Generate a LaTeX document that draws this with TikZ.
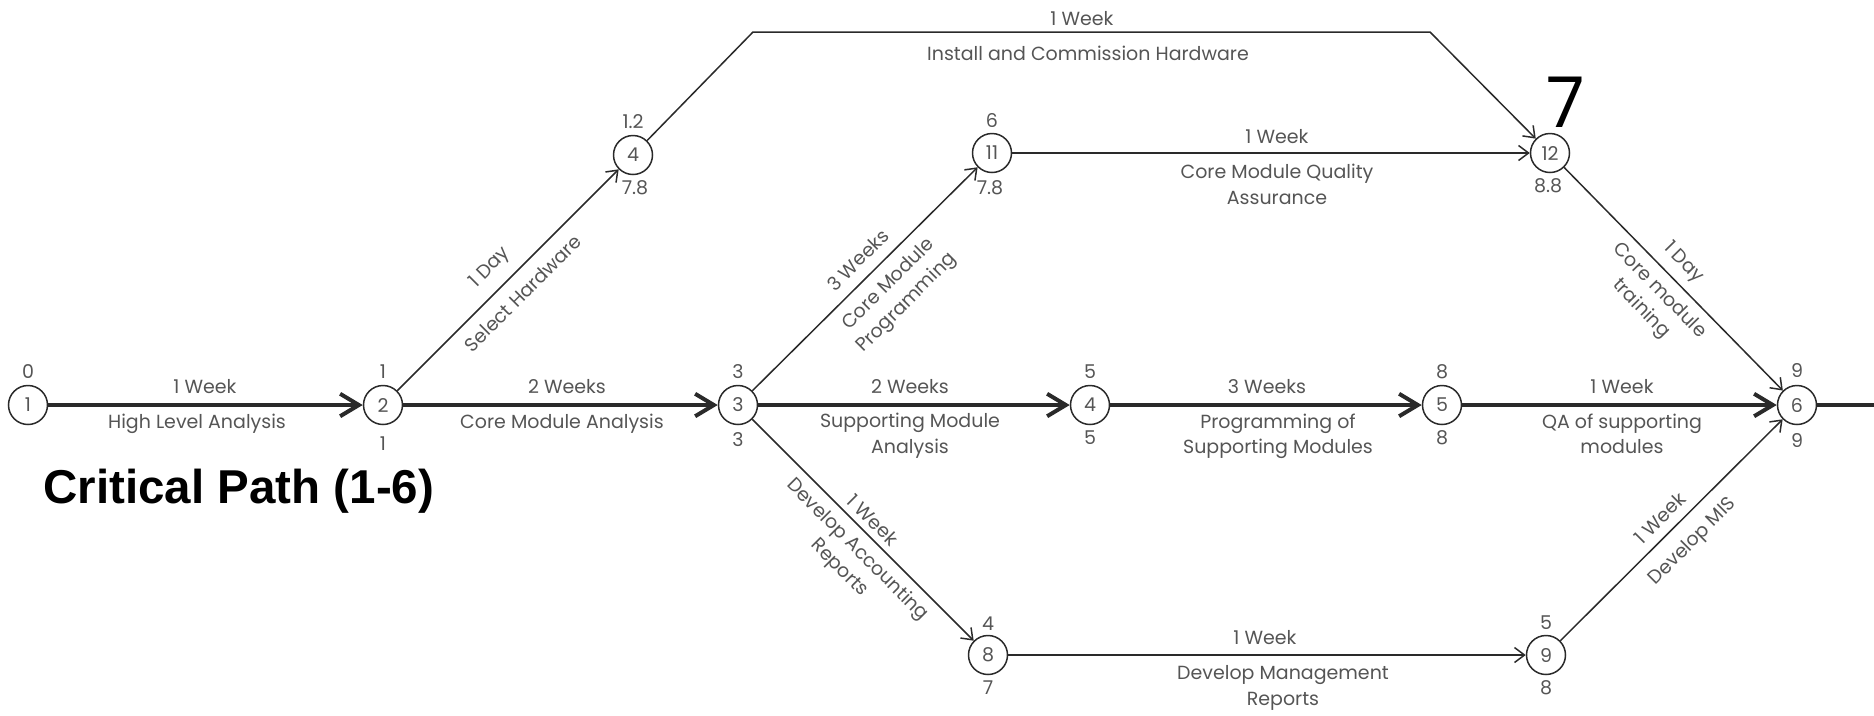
\documentclass[tikz,border=0pt]{standalone}
\usepackage{fontspec}
\setmainfont{Poppins}
\newfontfamily\titlefont{Liberation Sans}
\usetikzlibrary{arrows.meta}

\definecolor{inkline}{HTML}{2A2A2A}
\definecolor{inktext}{HTML}{555555}

\newcommand{\lblsize}{\fontsize{7.6}{10.2}\selectfont}

\begin{document}
\begin{tikzpicture}[x=0.4pt, y=-0.4pt,
  event/.style={circle, draw=inkline, line width=0.6pt, minimum size=15.6pt,
    inner sep=0pt, font=\lblsize, text=inktext},
  critline/.style={draw=inkline, line width=1.6pt},
  critarrow/.style={critline, -{Straight Barb[length=7.5pt, width=9pt]}},
  actarrow/.style={draw=inkline, line width=0.6pt, -{Straight Barb[length=4pt, width=6pt]}},
  lbl/.style={font=\lblsize, text=inktext, align=center, inner sep=0pt},
  num/.style={font=\lblsize, text=inktext, inner sep=0pt}]

\useasboundingbox (0,0) rectangle (1874,715);

% events
\node[event] (n1)  at (28,405)   {1};
\node[event] (n2)  at (383,405)  {2};
\node[event] (n3)  at (738,405)  {3};
\node[event] (n4m) at (1090,405) {4};
\node[event] (n5)  at (1442,405) {5};
\node[event] (n6)  at (1797,405) {6};
\node[event] (n4u) at (633,155)  {4};
\node[event] (n11) at (992,153)  {11};
\node[event] (n12) at (1550,153) {12};
\node[event] (n8)  at (988,655)  {8};
\node[event] (n9)  at (1546,655) {9};

% earliest / latest times
\node[num] (t1)   at (28,372)   {0};
\node[num] (t2)   at (383,372)  {1};
\node[num] (b2)   at (383,444)  {1};
\node[num] (t3)   at (738,372)  {3};
\node[num] (b3)   at (738,440)  {3};
\node[num] (t4m)  at (1090,372) {5};
\node[num] (b4m)  at (1090,438) {5};
\node[num] (t5)   at (1442,372) {8};
\node[num] (b5)   at (1442,438) {8};
\node[num] (t6)   at (1797,370) {9};
\node[num] (b6)   at (1797,440) {9};
\node[num] (t4u)  at (633,122)  {1.2};
\node[num] (b4u)  at (635,188)  {7.8};
\node[num] (t11)  at (992,121)  {6};
\node[num] (b11)  at (990,188)  {7.8};
\node[num] (b12)  at (1548,186) {8.8};
\node[num] (t8)   at (988,624)  {4};
\node[num] (b8)   at (988,688)  {7};
\node[num] (t9)   at (1546,623) {5};
\node[num] (b9)   at (1546,688) {8};
\node[font=\fontsize{28}{30}\selectfont, text=black, inner sep=0pt] (big7) at (1566,102) {7};

% critical path
\coordinate (exit) at (1874,405);
\draw[critarrow] (n1) -- (n2);
\draw[critarrow] (n2) -- (n3);
\draw[critarrow] (n3) -- (n4m);
\draw[critarrow] (n4m) -- (n5);
\draw[critarrow] (n5) -- (n6);
\draw[critline] (n6) -- (exit);

% other activities
\coordinate (hwa) at (753,32);
\coordinate (hwb) at (1430,32);
\draw[actarrow] (n2) -- (n4u);
\draw[actarrow] (n4u) -- (hwa) -- (hwb) -- (n12);
\draw[actarrow] (n3) -- (n11);
\draw[actarrow] (n11) -- (n12);
\draw[actarrow] (n12) -- (n6);
\draw[actarrow] (n3) -- (n8);
\draw[actarrow] (n8) -- (n9);
\draw[actarrow] (n9) -- (n6);

% activity labels along the critical path
\node[lbl] (d12) at (205,387) {1 Week};
\node[lbl] (a12) at (197,424) {High Level Analysis};
\node[lbl] (d23) at (567,387) {2 Weeks};
\node[lbl] (a23) at (562,424) {Core Module Analysis};
\node[lbl] (d34) at (910,387) {2 Weeks};
\node[lbl, anchor=north] (a34) at (910,413) {Supporting Module\\Analysis};
\node[lbl] (d45) at (1267,387) {3 Weeks};
\node[lbl, anchor=north] (a45) at (1278,413) {Programming of\\Supporting Modules};
\node[lbl] (d56) at (1622,387) {1 Week};
\node[lbl, anchor=north] (a56) at (1622,413) {QA of supporting\\modules};

% activity labels on the other branches
\node[lbl] (dhw) at (1082,19) {1 Week};
\node[lbl] (ahw) at (1088,53) {Install and Commission Hardware};
\node[lbl] (d1112) at (1277,137) {1 Week};
\node[lbl, anchor=north] (a1112) at (1277,164) {Core Module Quality\\Assurance};
\node[lbl] (d89) at (1265,638) {1 Week};
\node[lbl, anchor=north] (a89) at (1283,665) {Develop Management\\Reports};

\node[lbl, rotate=45] (d24) at (490,268) {1 Day};
\node[lbl, rotate=45] (a24) at (523,293) {Select Hardware};
\node[lbl, rotate=45] (d311) at (858,260) {3 Weeks};
\node[lbl, rotate=45] (a311) at (898,294) {Core Module\\Programming};
\node[lbl, rotate=-45] (d38) at (873,520) {1 Week};
\node[lbl, rotate=-45] (a38) at (848,559) {Develop Accounting\\Reports};
\node[lbl, rotate=-45.6] (d126) at (1683,263) {1 Day};
\node[lbl, rotate=-45.6] (a126) at (1650,300) {Core module\\training};
\node[lbl, rotate=45] (d96) at (1660,518) {1 Week};
\node[lbl, rotate=45] (a96) at (1693,542) {Develop MIS};

% caption
\node[font=\titlefont\bfseries\fontsize{19}{22}\selectfont, text=black, anchor=base west, inner sep=0pt]
  (title) at (43,503) {Critical Path (1-6)};
\end{tikzpicture}
\end{document}
